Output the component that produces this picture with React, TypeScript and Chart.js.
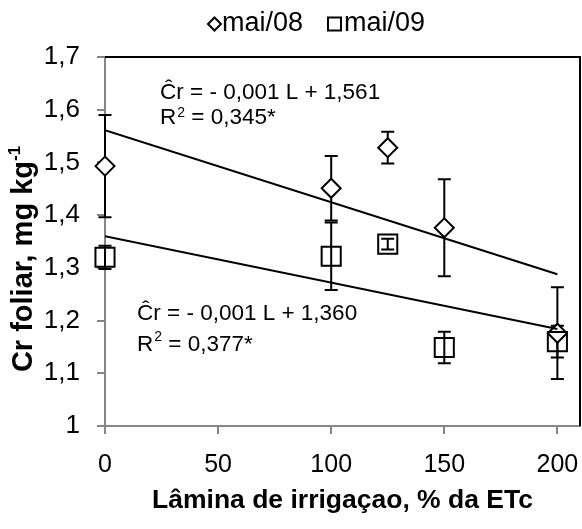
import { useEffect, useRef } from "react";
import { Chart, registerables } from "chart.js";

Chart.register(...registerables);

// Irrigation depth (% of ETc) and leaf Cr content (mg/kg) for two harvests
const laminas = [0, 100, 125, 150, 200];
const crMai08 = [1.493, 1.451, 1.528, 1.376, 1.176];
const errMai08 = [0.097, 0.061, 0.03, 0.092, 0.087];
const crMai09 = [1.32, 1.322, 1.345, 1.149, 1.16];
const errMai09 = [0.022, 0.064, 0.01, 0.03, 0.03];

// Fitted regression lines: intercept and slope per harvest
const seriesNames = ["mai/08", "mai/09"];
const intercepts = [1.561, 1.36];
const slopes = [-0.001365, -0.00088];
const eqTexts = ["Ĉr = - 0,001 L + 1,561", "Ĉr = - 0,001 L + 1,360"];
const r2Texts = [" = 0,345*", " = 0,377*"];

const xTicks = [0, 50, 100, 150, 200];
const yTicks = [1, 1.1, 1.2, 1.3, 1.4, 1.5, 1.6, 1.7];

const FONT = "'Liberation Sans', Arial, sans-serif";
const AXIS_GREY = "#868686";

const fmtY = (v: number) => (v === 1 ? "1" : v.toFixed(1).replace(".", ","));

const decorPlugin = {
  id: "decor",
  beforeDatasetsDraw(chart: any) {
    const ctx = chart.ctx;
    const xs = chart.scales.x;
    const ys = chart.scales.y;
    ctx.save();
    ctx.strokeStyle = "#000";
    ctx.lineWidth = 2;
    const drawBars = (vals: number[], errs: number[]) => {
      vals.forEach((v, i) => {
        const px = xs.getPixelForValue(laminas[i]);
        const top = ys.getPixelForValue(v + errs[i]);
        const bot = ys.getPixelForValue(v - errs[i]);
        ctx.beginPath();
        ctx.moveTo(px, top);
        ctx.lineTo(px, bot);
        ctx.moveTo(px - 6.5, top);
        ctx.lineTo(px + 6.5, top);
        ctx.moveTo(px - 6.5, bot);
        ctx.lineTo(px + 6.5, bot);
        ctx.stroke();
      });
    };
    drawBars(crMai09, errMai09);
    drawBars(crMai08, errMai08);
    ctx.restore();
  },
  afterDraw(chart: any) {
    const ctx = chart.ctx;
    const area = chart.chartArea;
    ctx.save();

    // top and right frame
    ctx.strokeStyle = "#000";
    ctx.lineWidth = 2;
    ctx.beginPath();
    ctx.moveTo(area.left, area.top);
    ctx.lineTo(area.right, area.top);
    ctx.lineTo(area.right, area.bottom);
    ctx.stroke();

    // legend
    ctx.fillStyle = "#000";
    ctx.textBaseline = "middle";
    ctx.textAlign = "left";
    ctx.font = `27px ${FONT}`;
    const ly = 24;
    ctx.lineWidth = 2;
    ctx.beginPath();
    ctx.moveTo(208, ly);
    ctx.lineTo(214.5, ly - 6.5);
    ctx.lineTo(221, ly);
    ctx.lineTo(214.5, ly + 6.5);
    ctx.closePath();
    ctx.stroke();
    ctx.fillText(seriesNames[0], 222, ly);
    ctx.strokeRect(328, ly - 6.5, 13, 13);
    ctx.fillText(seriesNames[1], 344, ly);

    // regression equations
    const drawEq = (i: number, x: number, y1: number, y2: number, supRise: number) => {
      ctx.font = `22.5px ${FONT}`;
      ctx.textAlign = "left";
      ctx.textBaseline = "middle";
      ctx.fillText(eqTexts[i], x, y1);
      ctx.fillText("R", x, y2);
      const rw = ctx.measureText("R").width;
      ctx.font = `14px ${FONT}`;
      ctx.fillText("2", x + rw + 1, y2 - supRise);
      const sw = ctx.measureText("2").width;
      ctx.font = `22.5px ${FONT}`;
      ctx.fillText(r2Texts[i], x + rw + 1 + sw, y2);
    };
    drawEq(0, 160, 93, 118, 5);
    drawEq(1, 137, 314, 345, 8);

    // x axis title
    ctx.font = `bold 26.5px ${FONT}`;
    ctx.textAlign = "center";
    ctx.textBaseline = "middle";
    ctx.fillText("Lâmina de irrigaçao, % da ETc", (area.left + area.right) / 2, 501);

    // y axis title with superscript unit
    const main = "Cr foliar, mg kg";
    const sup = "-1";
    ctx.font = `bold 29px ${FONT}`;
    const mw = ctx.measureText(main).width;
    ctx.font = `bold 17px ${FONT}`;
    const sw = ctx.measureText(sup).width;
    const total = mw + sw;
    ctx.translate(24, 259);
    ctx.rotate(-Math.PI / 2);
    ctx.textAlign = "left";
    ctx.font = `bold 29px ${FONT}`;
    ctx.fillText(main, -total / 2, 0);
    ctx.font = `bold 17px ${FONT}`;
    ctx.fillText(sup, -total / 2 + mw, -9);

    ctx.restore();
  },
};

export default function App() {
  const ref = useRef<HTMLCanvasElement | null>(null);

  useEffect(() => {
    document.body.style.margin = "0";
    const canvas = ref.current;
    if (!canvas) return;

    const trend = (i: number) =>
      [0, 200].map((x) => ({ x, y: intercepts[i] + slopes[i] * x }));

    const chart = new Chart(canvas, {
      type: "scatter",
      data: {
        datasets: [
          {
            type: "line",
            label: "trend08",
            data: trend(0),
            borderColor: "#000",
            borderWidth: 2,
            pointRadius: 0,
            showLine: true,
            fill: false,
          },
          {
            type: "line",
            label: "trend09",
            data: trend(1),
            borderColor: "#000",
            borderWidth: 2,
            pointRadius: 0,
            showLine: true,
            fill: false,
          },
          {
            label: seriesNames[1],
            data: laminas.map((x, i) => ({ x, y: crMai09[i] })),
            pointStyle: "rect",
            pointRadius: 13.5,
            borderColor: "#000",
            borderWidth: 2,
            backgroundColor: "rgba(0,0,0,0)",
            clip: false,
          },
          {
            label: seriesNames[0],
            data: laminas.map((x, i) => ({ x, y: crMai08[i] })),
            pointStyle: "rectRot",
            pointRadius: 9.5,
            borderColor: "#000",
            borderWidth: 2,
            backgroundColor: "#fff",
            clip: false,
          },
        ],
      } as any,
      options: {
        animation: false,
        responsive: false,
        events: [],
        layout: { autoPadding: false, padding: { top: 57, right: 2, left: 0, bottom: 0 } },
        plugins: {
          legend: { display: false },
          title: { display: false },
          tooltip: { enabled: false },
        },
        scales: {
          x: {
            type: "linear",
            min: 0,
            max: 210,
            afterBuildTicks: (s: any) => {
              s.ticks = xTicks.map((value) => ({ value }));
            },
            afterFit: (s: any) => {
              s.height = 103;
              s.paddingLeft = 0;
              s.paddingRight = 0;
            },
            border: { color: AXIS_GREY, width: 2 },
            grid: {
              drawOnChartArea: false,
              tickLength: 8,
              color: AXIS_GREY,
              lineWidth: 2,
            },
            ticks: {
              font: { family: FONT, size: 25 },
              color: "#000",
              padding: 16,
              maxRotation: 0,
              callback: (v: any) => String(v),
            },
          },
          y: {
            type: "linear",
            min: 1,
            max: 1.7,
            afterBuildTicks: (s: any) => {
              s.ticks = yTicks.map((value) => ({ value }));
            },
            afterFit: (s: any) => {
              s.width = 105;
              s.paddingTop = 0;
              s.paddingBottom = 0;
            },
            border: { color: AXIS_GREY, width: 2 },
            grid: {
              drawOnChartArea: false,
              tickLength: 8,
              color: AXIS_GREY,
              lineWidth: 2,
            },
            ticks: {
              font: { family: FONT, size: 26 },
              color: "#000",
              padding: 17,
              callback: (v: any) => fmtY(Number(v)),
            },
          },
        },
      } as any,
      plugins: [decorPlugin],
    });

    return () => chart.destroy();
  }, []);

  return <canvas ref={ref} width={582} height={529} style={{ display: "block" }} />;
}
